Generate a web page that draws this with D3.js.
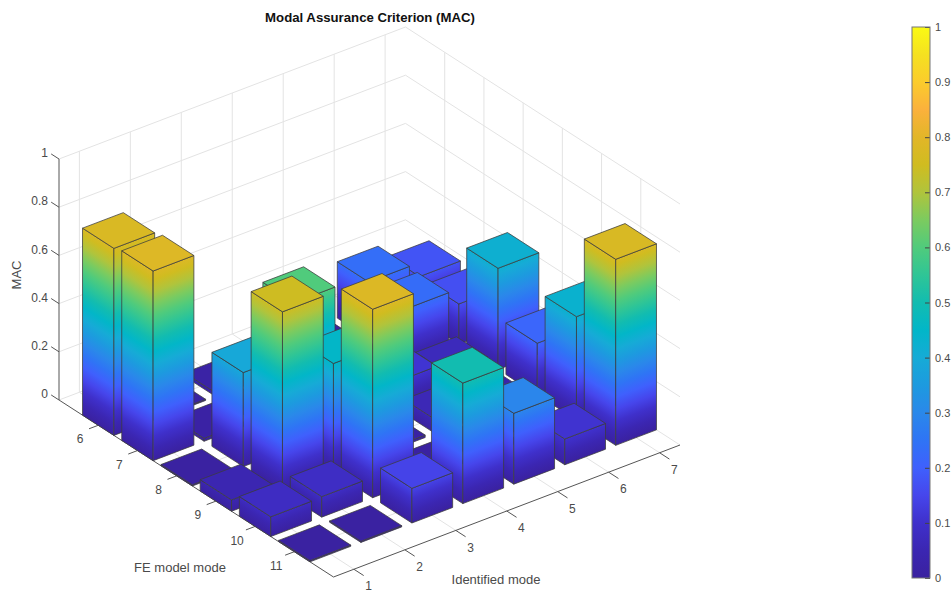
<!DOCTYPE html>
<html lang="en">
<head>
    <meta charset="UTF-8">
    <title>MAC</title>
    <script src="https://cdn.jsdelivr.net/npm/d3@7"></script>
    <style>
        html, body { margin: 0; background: white; }
        text { font-family: "Liberation Sans", Arial, sans-serif; fill: #4a4a4a; }
        .grid { stroke: #e3e3e3; stroke-width: 1; fill: none; }
        .axis3d { stroke: #555; stroke-width: 1; fill: none; }
        .face { stroke: #3c3c3c; stroke-opacity: .85; stroke-width: .9; stroke-linejoin: round; }
    </style>
</head>
<body>
<script>
    const width = 952, height = 595;

    // identified modes (x), FE model modes (y)
    const identified = [1, 2, 3, 4, 5, 6, 7];
    const feModes = [6, 7, 8, 9, 10, 11];
    const zTicks = [0, 0.2, 0.4, 0.6, 0.8, 1];

    // one row per FE mode
    const mac6  = [0.776, 0.005, 0.015, 0.02,  0.012, 0.234, 0.176];
    const mac7  = [0.787, 0.012, 0.02,  0.03,  0.03,  0.23,  0.167];
    const mac8  = [0.005, 0.39,  0.60,  0.03,  0.11,  0.068, 0.42];
    const mac9  = [0.047, 0.747, 0.452, 0.01,  0.058, 0.03,  0.214];
    const mac10 = [0.082, 0.085, 0.782, 0.005, 0.02,  0.01,  0.429];
    const mac11 = [0.005, 0.005, 0.144, 0.50,  0.294, 0.107, 0.772];
    const macRows = [mac6, mac7, mac8, mac9, mac10, mac11];

    const cmapStops = [0, .05, .1, .15, .2, .25, .3, .35, .4, .45, .5, .55, .6, .65, .7, .75, .8, .85, .9, .95, 1];
    const cmapColors = ["#3a219f", "#3b26b2", "#3f30cb", "#4646ec", "#3f60fd", "#2f74f5", "#2a88ea",
        "#1d9adf", "#16abd6", "#02b6c8", "#12bcb0", "#2fc596", "#50cb7c", "#7ccb5f", "#b0c43c",
        "#d0bc20", "#e2b628", "#fbb13c", "#fbcc2c", "#f5e120", "#fafa14"];

    const svg = d3.select("body").append("svg")
        .attr("width", width).attr("height", height)
        .style("display", "block");
    const defs = svg.append("defs");

    const color = d3.scaleLinear().domain(cmapStops).range(cmapColors);

    // axes: fractions along the floor edges, pixels up for z
    const sx = d3.scaleLinear().domain([0.6, 7.4]).range([0, 1]);
    const sy = d3.scaleLinear().domain([5, 12]).range([1, 0]);
    const sz = d3.scaleLinear().domain([0, 1]).range([0, 241]);

    // front corner of the floor and the two floor edges
    const front = [333.5, 577], edgeX = [346.5, -132], edgeY = [-274.5, -177];

    function project(x, y, z) {
        const a = sx(x), b = sy(y), h = sz(z);
        return [front[0] + a * edgeX[0] + b * edgeY[0],
                front[1] + a * edgeX[1] + b * edgeY[1] - h];
    }
    const poly = pts => "M" + pts.map(p => p.join(",")).join("L") + "Z";

    const [x0, x1] = sx.domain(), [y0, y1] = sy.domain();

    // walls and floor grid
    const gridG = svg.append("g");
    function gridLine(a, b) {
        gridG.append("line").attr("class", "grid")
            .attr("x1", a[0]).attr("y1", a[1]).attr("x2", b[0]).attr("y2", b[1]);
    }
    identified.forEach(x => {
        gridLine(project(x, y0, 0), project(x, y0, 1));
        gridLine(project(x, y0, 0), project(x, y1, 0));
    });
    feModes.forEach(y => {
        gridLine(project(x1, y, 0), project(x1, y, 1));
        gridLine(project(x0, y, 0), project(x1, y, 0));
    });
    zTicks.forEach(z => {
        gridLine(project(x0, y0, z), project(x1, y0, z));
        gridLine(project(x1, y0, z), project(x1, y1, z));
    });

    // 3d axes
    const axisG = svg.append("g");
    function axisLine(a, b) {
        axisG.append("line").attr("class", "axis3d")
            .attr("x1", a[0]).attr("y1", a[1]).attr("x2", b[0]).attr("y2", b[1]);
    }
    axisLine(project(x0, y1, 0), project(x1, y1, 0));
    axisLine(project(x0, y0, 0), project(x0, y1, 0));
    axisLine(project(x0, y0, 0), project(x0, y0, 1));

    identified.forEach(x => {
        const p = project(x, y1, 0), q = project(x, y1 + 0.25, 0);
        axisLine(p, q);
        axisG.append("text").attr("x", p[0] + 14.7).attr("y", p[1] + 17)
            .attr("text-anchor", "middle").attr("dy", ".35em").attr("font-size", 12).text(x);
    });
    feModes.forEach(y => {
        const p = project(x0, y, 0), q = project(x0 - 0.18, y, 0);
        axisLine(p, q);
        axisG.append("text").attr("x", p[0] - 18).attr("y", p[1] + 14)
            .attr("text-anchor", "middle").attr("dy", ".35em").attr("font-size", 12).text(y);
    });
    zTicks.forEach(z => {
        const p = project(x0, y0, z), q = project(x0, y0 - 0.2, z);
        axisLine(p, q);
        axisG.append("text").attr("x", p[0] - 11).attr("y", p[1] - 6)
            .attr("text-anchor", "end").attr("dy", ".35em").attr("font-size", 12).text(z);
    });

    // bars, back to front
    const halfW = 0.4;
    const bars = [];
    macRows.forEach((row, j) => row.forEach((v, i) => {
        bars.push({x: identified[i], y: feModes[j], v: v});
    }));
    bars.sort((a, b) => d3.ascending(project(a.x, a.y, 0)[1], project(b.x, b.y, 0)[1]));

    let gradId = 0;
    // gradient with isolines running along the bottom edge of the face
    function faceGradient(a, b, h) {
        const ex = b[0] - a[0], ey = b[1] - a[1], len = Math.hypot(ex, ey);
        const nx = ey / len, ny = -ex / len;          // normal of the bottom edge
        const up = -sz(h);                            // vertical pixels of the face
        const d = up * ny;
        const id = "g" + (gradId++);
        const grad = defs.append("linearGradient").attr("id", id)
            .attr("gradientUnits", "userSpaceOnUse")
            .attr("x1", a[0]).attr("y1", a[1])
            .attr("x2", a[0] + nx * d).attr("y2", a[1] + ny * d);
        d3.range(0, 1.0001, 0.05).forEach(t => {
            if (t > h) return;
            grad.append("stop").attr("offset", t / h).attr("stop-color", color(t));
        });
        grad.append("stop").attr("offset", 1).attr("stop-color", color(h));
        return "url(#" + id + ")";
    }

    const barG = svg.append("g");
    bars.forEach(d => {
        const xa = d.x - halfW, xb = d.x + halfW, ya = d.y - halfW, yb = d.y + halfW;
        const g = barG.append("g");
        const fl = project(xa, ya, 0), ff = project(xa, yb, 0), fr = project(xb, yb, 0);
        const tl = project(xa, ya, d.v), tf = project(xa, yb, d.v), tr = project(xb, yb, d.v), tb = project(xb, ya, d.v);
        g.append("path").attr("class", "face").attr("d", poly([fl, ff, tf, tl]))
            .attr("fill", faceGradient(fl, ff, d.v));
        g.append("path").attr("class", "face").attr("d", poly([ff, fr, tr, tf]))
            .attr("fill", faceGradient(ff, fr, d.v));
        g.append("path").attr("class", "face").attr("d", poly([tl, tf, tr, tb]))
            .attr("fill", color(d.v));
    });

    // titles
    svg.append("text").attr("x", 370).attr("y", 17).attr("dy", ".35em")
        .attr("text-anchor", "middle").attr("font-size", 13.2).attr("font-weight", "bold")
        .style("fill", "#111").text("Modal Assurance Criterion (MAC)");
    svg.append("text").attr("transform", "translate(16,275) rotate(-90)").attr("dy", ".35em")
        .attr("text-anchor", "middle").attr("font-size", 13).text("MAC");
    svg.append("text").attr("x", 180).attr("y", 567).attr("dy", ".35em")
        .attr("text-anchor", "middle").attr("font-size", 13).text("FE model mode");
    svg.append("text").attr("x", 496).attr("y", 579).attr("dy", ".35em")
        .attr("text-anchor", "middle").attr("font-size", 13).text("Identified mode");

    // colorbar
    const cbX = 912, cbW = 18, cbTop = 27, cbBottom = 578;
    const cbScale = d3.scaleLinear().domain([0, 1]).range([cbBottom, cbTop]);
    const cbGrad = defs.append("linearGradient").attr("id", "cb")
        .attr("x1", 0).attr("y1", 1).attr("x2", 0).attr("y2", 0);
    cmapStops.forEach((s, i) => cbGrad.append("stop").attr("offset", s).attr("stop-color", cmapColors[i]));
    svg.append("rect").attr("x", cbX).attr("y", cbTop).attr("width", cbW).attr("height", cbBottom - cbTop)
        .attr("fill", "url(#cb)");
    const cbAxis = svg.append("g").attr("transform", `translate(${cbX + cbW},0)`)
        .call(d3.axisRight(cbScale).tickValues(d3.range(0, 11).map(i => i / 10))
            .tickSize(-5).tickPadding(10).tickFormat(d => d));
    cbAxis.select(".domain").remove();
    cbAxis.selectAll("line").attr("stroke", "#444");
    cbAxis.selectAll("text").attr("font-size", 11).attr("font-family", '"Liberation Sans", Arial, sans-serif')
        .attr("x", 5);
    svg.append("rect").attr("x", cbX).attr("y", cbTop).attr("width", cbW).attr("height", cbBottom - cbTop)
        .attr("fill", "none").attr("stroke", "#777").attr("stroke-width", 1);
</script>
</body>
</html>
